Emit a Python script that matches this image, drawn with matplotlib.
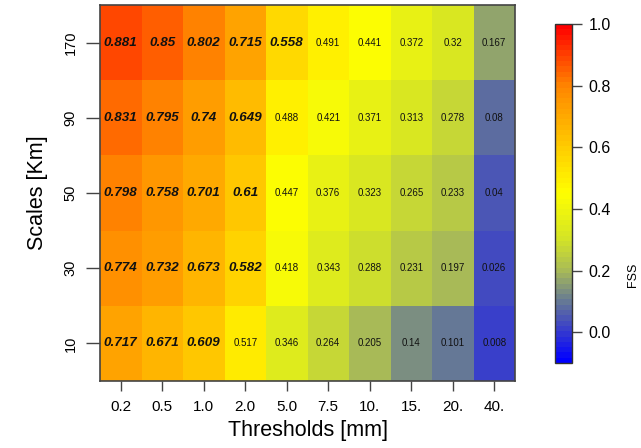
import numpy as np
import matplotlib
matplotlib.use("Agg")
import matplotlib.pyplot as plt
from matplotlib.colors import LinearSegmentedColormap, Normalize

plt.rcParams['font.family'] = ['Liberation Sans', 'DejaVu Sans']

thresholds = ["0.2", "0.5", "1.0", "2.0", "5.0", "7.5", "10.", "15.", "20.", "40."]
scales = ["10", "30", "50", "90", "170"]

fss_10 = [0.717, 0.671, 0.609, 0.517, 0.346, 0.264, 0.205, 0.14, 0.101, 0.008]
fss_30 = [0.774, 0.732, 0.673, 0.582, 0.418, 0.343, 0.288, 0.231, 0.197, 0.026]
fss_50 = [0.798, 0.758, 0.701, 0.61, 0.447, 0.376, 0.323, 0.265, 0.233, 0.04]
fss_90 = [0.831, 0.795, 0.74, 0.649, 0.488, 0.421, 0.371, 0.313, 0.278, 0.08]
fss_170 = [0.881, 0.85, 0.802, 0.715, 0.558, 0.491, 0.441, 0.372, 0.32, 0.167]

fss = np.array([fss_10, fss_30, fss_50, fss_90, fss_170])

vmin, vmax = -0.1, 1.0

def frac(v):
    return (v - vmin) / (vmax - vmin)

anchors = [
    (-0.1, (0, 0, 255)),
    (0.0, (55, 60, 205)),
    (0.1, (105, 125, 145)),
    (0.2, (170, 188, 85)),
    (0.3, (212, 228, 38)),
    (0.45, (255, 255, 0)),
    (0.6, (255, 205, 0)),
    (0.8, (255, 135, 0)),
    (1.0, (255, 0, 0)),
]
cmap = LinearSegmentedColormap.from_list(
    "fss", [(frac(v), tuple(c / 255 for c in col)) for v, col in anchors], N=64)
norm = Normalize(vmin=vmin, vmax=vmax)

fig = plt.figure(figsize=(6.41, 4.48), dpi=100)
ax = fig.add_axes([100 / 641, 1 - 381 / 448, 415 / 641, 376 / 448])

nrow, ncol = fss.shape
ax.pcolormesh(np.arange(ncol + 1) - 0.5, np.arange(nrow + 1) - 0.5, fss,
              cmap=cmap, norm=norm, shading="flat")

for i in range(nrow):
    for j in range(ncol):
        v = fss[i, j]
        label = f"{v:g}"
        if v > 0.55:
            ax.text(j, i, label, ha="center", va="center", fontsize=9.6,
                    fontweight="bold", fontstyle="italic", color="#111111")
        else:
            ax.text(j, i, label, ha="center", va="center", fontsize=7,
                    color="#111111")

ax.set_xlim(-0.5, ncol - 0.5)
ax.set_ylim(-0.5, nrow - 0.5)
ax.set_xticks(np.arange(ncol))
ax.set_xticklabels(thresholds, fontsize=11)
ax.set_yticks(np.arange(nrow))
ax.set_yticklabels(scales, fontsize=10.5, rotation=90, va="center")
ax.tick_params(axis="x", length=7, width=1, color="#444444", pad=7)
ax.tick_params(axis="y", length=10, width=1, color="#444444", pad=6)
for sp in ax.spines.values():
    sp.set_color("#444444")
    sp.set_linewidth(1.2)
ax.set_xlabel("Thresholds [mm]", fontsize=15.5, labelpad=4)
ax.set_ylabel("Scales [Km]", fontsize=15.5, labelpad=11)

cax = fig.add_axes([555 / 641, 1 - 363 / 448, 17 / 641, 339 / 448])
sm = matplotlib.cm.ScalarMappable(cmap=cmap, norm=norm)
cb = fig.colorbar(sm, cax=cax)
cb.set_ticks([0.0, 0.2, 0.4, 0.6, 0.8, 1.0])
cb.ax.tick_params(labelsize=11.5, length=7, width=1, color="#444444", pad=5)
cb.outline.set_edgecolor("#333333")
cb.outline.set_linewidth(1)
fig.text(633 / 641, 1 - 275 / 448, "FSS", rotation=90, fontsize=9,
         ha="center", va="center")

fig.savefig("out.png", dpi=100)
